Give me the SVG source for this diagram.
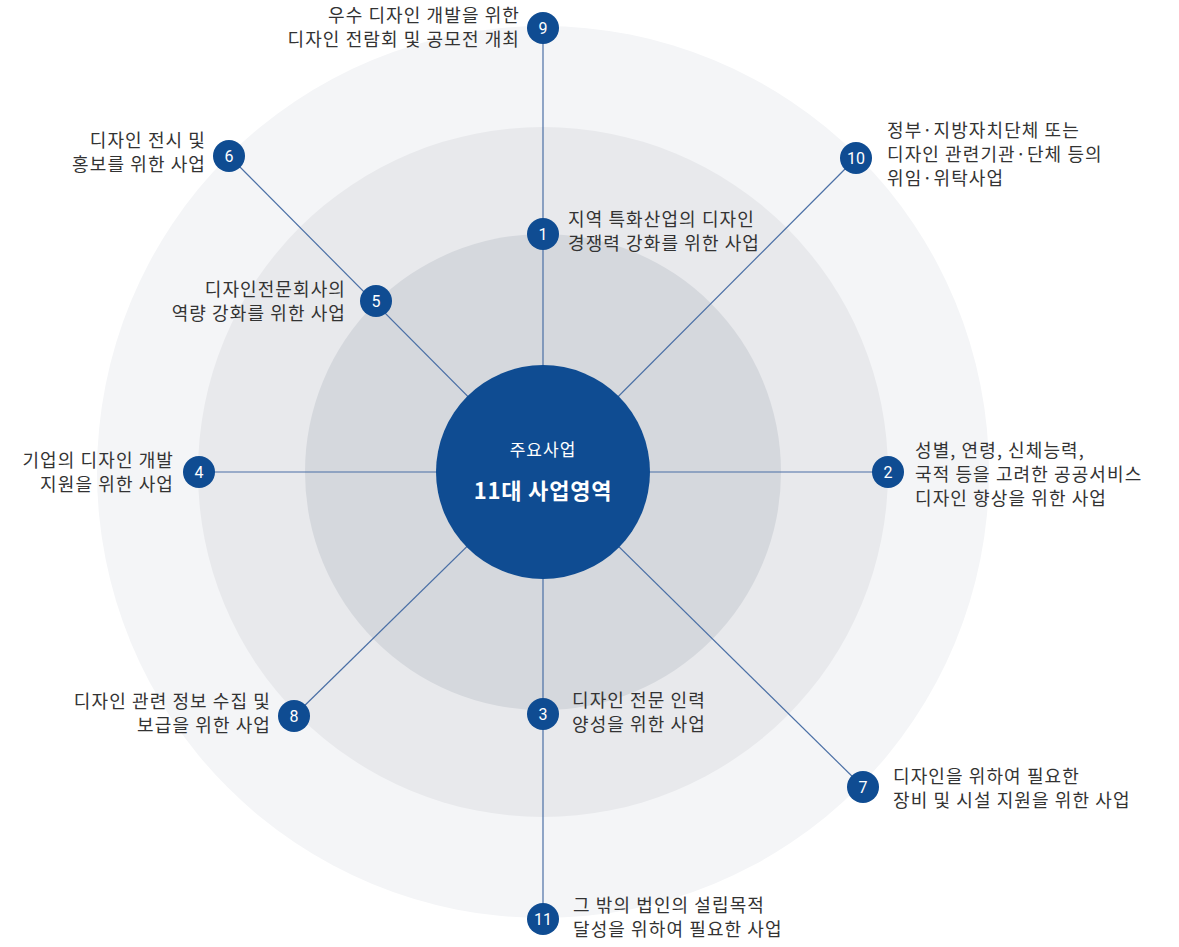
<svg xmlns="http://www.w3.org/2000/svg" width="1179" height="947" viewBox="0 0 1179 947">
<style>
.t{font-family:"Noto Sans CJK KR","Noto Sans",sans-serif;font-size:18px;letter-spacing:1.1px;fill:#333;}
.r{text-anchor:end;}
.n{fill:#0f4c92;}
.nt{font-family:"Roboto","Noto Sans",sans-serif;font-size:16px;fill:#fff;text-anchor:middle;}
.c{stroke:#4a6fa5;stroke-width:1.2;fill:none;}
</style>
<rect width="1179" height="947" fill="#fff"/>
<g id="rings">
<circle cx="543" cy="472" r="446" fill="#f4f5f7"/>
<circle cx="543" cy="472" r="345" fill="#e8e9ec"/>
<circle cx="543" cy="472" r="238" fill="#d5d8dd"/>
</g>
<g id="connectors">
<line class="c" x1="543" y1="28" x2="543" y2="919"/>
<line class="c" x1="199" y1="472" x2="888" y2="472"/>
<line class="c" x1="229" y1="156" x2="543" y2="472"/>
<line class="c" x1="856" y1="158" x2="543" y2="472"/>
<line class="c" x1="294" y1="716" x2="543" y2="472"/>
<line class="c" x1="863" y1="787" x2="543" y2="472"/>
</g>
<g id="center">
<circle cx="543" cy="472" r="107" fill="#0f4c92"/>
<text x="543" y="456" font-family="Noto Sans CJK KR,sans-serif" font-size="17" letter-spacing="1" fill="#fff" text-anchor="middle">주요사업</text>
<text x="543" y="499" font-family="Noto Sans CJK KR,sans-serif" font-size="22" letter-spacing="0.8" font-weight="bold" fill="#fff" text-anchor="middle">11대 사업영역</text>
</g>
<g id="node1"><circle class="n" cx="543" cy="234" r="16"/><text class="nt" x="543" y="240">1</text>
<text class="t" x="568" y="226">지역 특화산업의 디자인</text><text class="t" x="568" y="250">경쟁력 강화를 위한 사업</text></g>
<g id="node2"><circle class="n" cx="888" cy="472" r="16"/><text class="nt" x="888" y="478">2</text>
<text class="t" x="915" y="457">성별, 연령, 신체능력,</text><text class="t" x="915" y="481">국적 등을 고려한 공공서비스</text><text class="t" x="915" y="505">디자인 향상을 위한 사업</text></g>
<g id="node3"><circle class="n" cx="543" cy="714" r="16"/><text class="nt" x="543" y="720">3</text>
<text class="t" x="572" y="707">디자인 전문 인력</text><text class="t" x="572" y="731">양성을 위한 사업</text></g>
<g id="node4"><circle class="n" cx="199" cy="472" r="16"/><text class="nt" x="199" y="478">4</text>
<text class="t r" x="174" y="467">기업의 디자인 개발</text><text class="t r" x="174" y="491">지원을 위한 사업</text></g>
<g id="node5"><circle class="n" cx="376" cy="301" r="16"/><text class="nt" x="376" y="307">5</text>
<text class="t r" x="346" y="296">디자인전문회사의</text><text class="t r" x="346" y="320">역량 강화를 위한 사업</text></g>
<g id="node6"><circle class="n" cx="229" cy="156" r="16"/><text class="nt" x="229" y="162">6</text>
<text class="t r" x="206" y="147">디자인 전시 및</text><text class="t r" x="206" y="171">홍보를 위한 사업</text></g>
<g id="node7"><circle class="n" cx="863" cy="787" r="16"/><text class="nt" x="863" y="793">7</text>
<text class="t" x="893" y="783">디자인을 위하여 필요한</text><text class="t" x="893" y="807">장비 및 시설 지원을 위한 사업</text></g>
<g id="node8"><circle class="n" cx="294" cy="716" r="16"/><text class="nt" x="294" y="722">8</text>
<text class="t r" x="271" y="708">디자인 관련 정보 수집 및</text><text class="t r" x="271" y="732">보급을 위한 사업</text></g>
<g id="node9"><circle class="n" cx="543" cy="28" r="16"/><text class="nt" x="543" y="34">9</text>
<text class="t r" x="520" y="22">우수 디자인 개발을 위한</text><text class="t r" x="520" y="46">디자인 전람회 및 공모전 개최</text></g>
<g id="node10"><circle class="n" cx="856" cy="158" r="16"/><text class="nt" x="856" y="164">10</text>
<text class="t" x="887" y="137">정부·지방자치단체 또는</text><text class="t" x="887" y="161">디자인 관련기관·단체 등의</text><text class="t" x="887" y="185">위임·위탁사업</text></g>
<g id="node11"><circle class="n" cx="543" cy="919" r="16"/><text class="nt" x="543" y="925">11</text>
<text class="t" x="573" y="912">그 밖의 법인의 설립목적</text><text class="t" x="573" y="936">달성을 위하여 필요한 사업</text></g>
</svg>
